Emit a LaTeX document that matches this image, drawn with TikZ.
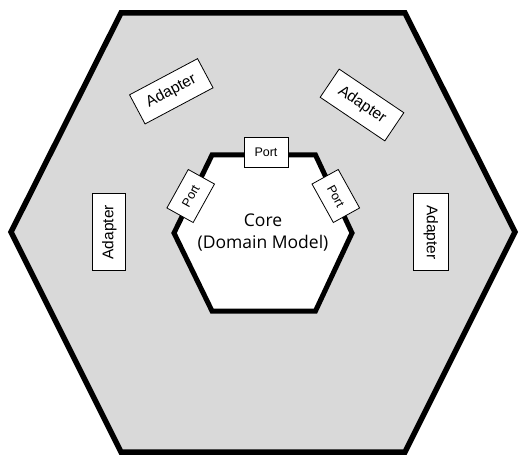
\documentclass[tikz,border=0pt]{standalone}
\usepackage{fontspec}
\setmainfont{Liberation Sans}
\newfontfamily\corefont{Open Sans}
\definecolor{hexgray}{RGB}{217,217,217}
\begin{document}
\begin{tikzpicture}[x=1pt,y=-1pt,
  hexline/.style={draw=black, line width=5.5pt, line join=miter},
  adapterbox/.style={draw=black, line width=0.8pt, fill=white,
    font=\fontsize{15.5}{18}\selectfont,
    minimum width=77pt, minimum height=33pt, inner sep=0pt},
  portbox/.style={draw=black, line width=0.8pt, fill=white,
    font=\fontsize{12.5}{15}\selectfont,
    minimum width=44pt, minimum height=30pt, inner sep=0pt},
  coretext/.style={align=center, inner sep=0pt,
    font=\corefont\fontsize{17.5}{22}\selectfont}]
\useasboundingbox (0,0) rectangle (528,468);
% outer hexagon
\draw[hexline, fill=hexgray] (121,13) -- (405,13) -- (515,232) -- (405,452)
  -- (121,452) -- (11,232) -- cycle;
% inner hexagon (core)
\draw[hexline, line width=5pt, fill=white] (212,155) -- (315.5,155) -- (352,233)
  -- (315.5,311) -- (212,311) -- (174,233) -- cycle;
\node[coretext] (core) at (263,232.5) {Core\\(Domain Model)};
% ports
\node[portbox] (porttop) at (266,152.5) {Port};
\node[portbox, rotate=61] (portleft) at (190.7,196) {Port};
\node[portbox, rotate=-61] (portright) at (335.8,196) {Port};
% adapters
\node[adapterbox, rotate=28] (adaptertl) at (171.3,91.3) {Adapter};
\node[adapterbox, rotate=-34, minimum width=78pt, minimum height=34pt] (adaptertr) at (362,105) {Adapter};
\node[adapterbox, rotate=90] (adapterl) at (109.3,232.3) {Adapter};
\node[adapterbox, rotate=-90, minimum height=35pt] (adapterr) at (430.8,232.3) {Adapter};
\end{tikzpicture}
\end{document}
